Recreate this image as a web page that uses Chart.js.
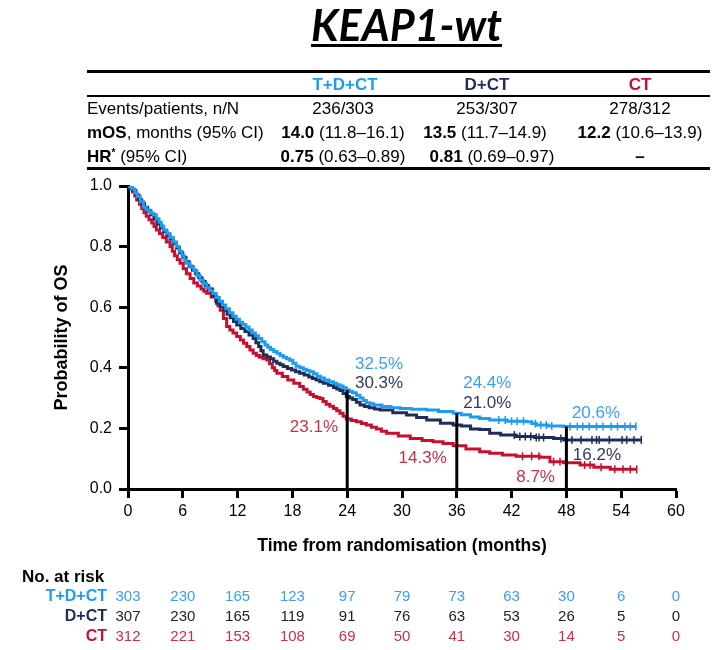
<!DOCTYPE html>
<html>
<head>
<meta charset="utf-8">
<script src="https://cdn.jsdelivr.net/npm/chart.js@4.4.1/dist/chart.umd.min.js"></script>
<style>
  body { margin: 0; width: 713px; height: 650px; position: relative; background: #fff; overflow: hidden;
         font-family: "Liberation Sans", Arial, sans-serif; }
  #chart { position: absolute; left: 0; top: 0; }
  #title { position: absolute; left: 0; width: 813px; top: -1px; text-align: center; line-height: 51px;
           font: italic 700 43px Lato, sans-serif; text-decoration: underline; text-decoration-thickness: 3px;
           text-underline-offset: 3px; }
  .t { position: absolute; white-space: nowrap; font-size: 17px; line-height: 20px; color: #000; }
  .c { transform: translate(-50%, -50%); }
  .l { transform: translateY(-50%); }
  .rule { position: absolute; left: 87px; width: 623px; background: #000; }
  sup { font-size: 10px; vertical-align: 6px; line-height: 0; }
</style>
</head>
<body>
<canvas id="chart" width="713" height="650"></canvas>
<div id="title">KEAP1-wt</div>

<div class="rule" style="top:70px;height:3px"></div>
<div class="t c" style="left:345px;top:85px;color:#1f9bf0;font-weight:700">T+D+CT</div>
<div class="t c" style="left:487px;top:85px;color:#1e2d5a;font-weight:700">D+CT</div>
<div class="t c" style="left:640px;top:85px;color:#c8102e;font-weight:700">CT</div>
<div class="rule" style="top:95px;height:1.5px"></div>

<div class="t l" style="left:87px;top:109px">Events/patients, n/N</div>
<div class="t c" style="left:343px;top:109px">236/303</div>
<div class="t c" style="left:487px;top:109px">253/307</div>
<div class="t c" style="left:640px;top:109px">278/312</div>

<div class="t l" style="left:87px;top:133px"><b>mOS</b>, months (95% CI)</div>
<div class="t c" style="left:343px;top:133px"><b>14.0</b> (11.8–16.1)</div>
<div class="t c" style="left:485px;top:133px"><b>13.5</b> (11.7–14.9)</div>
<div class="t c" style="left:640px;top:133px"><b>12.2</b> (10.6–13.9)</div>

<div class="t l" style="left:87px;top:157px"><b>HR<sup>*</sup></b> (95% CI)</div>
<div class="t c" style="left:343px;top:157px"><b>0.75</b> (0.63–0.89)</div>
<div class="t c" style="left:492px;top:157px"><b>0.81</b> (0.69–0.97)</div>
<div class="t c" style="left:640px;top:157px"><b>–</b></div>
<div class="rule" style="top:167px;height:3px"></div>

<script>
// Kaplan-Meier curves: months / probability of OS
const TIME_TDCT = [0, 0.25, 0.5, 0.75, 1.0, 1.35, 1.7, 2.0, 2.3, 2.55, 2.8, 3.1, 3.4, 3.65, 3.9, 4.25, 4.6, 4.95,
  5.3, 5.6, 5.9, 6.15, 6.4, 6.8, 7.2, 7.55, 7.9, 8.25, 8.6, 8.95, 9.3, 9.65, 10.0, 10.35, 10.7, 11.1, 11.5, 11.85,
  12.2, 12.55, 12.9, 13.25, 13.6, 13.95, 14.3, 14.65, 15.0, 15.3, 15.6, 15.95, 16.3, 16.65, 17.0, 17.35, 17.7,
  18.05, 18.4, 18.8, 19.2, 19.55, 19.9, 20.3, 20.7, 21.1, 21.5, 22.0, 22.5, 22.85, 23.2, 23.55, 23.9, 24.25, 24.6,
  25.0, 25.4, 25.75, 26.1, 26.5, 26.9, 27.8, 28.8, 29.8, 31.0, 32.7, 34.0, 35.6, 36.5, 37.5, 38.5, 39.6, 41.5,
  43.6, 44.2, 44.7, 46.0, 47.7, 55.7];
const SURV_TDCT = [1.0, 0.995, 0.99, 0.978, 0.965, 0.948, 0.93, 0.922, 0.915, 0.91, 0.905, 0.892, 0.88, 0.868,
  0.855, 0.843, 0.83, 0.815, 0.80, 0.785, 0.77, 0.757, 0.745, 0.733, 0.72, 0.705, 0.69, 0.678, 0.665, 0.655, 0.645,
  0.632, 0.62, 0.607, 0.595, 0.582, 0.57, 0.56, 0.55, 0.543, 0.535, 0.525, 0.515, 0.506, 0.497, 0.486, 0.475,
  0.468, 0.46, 0.454, 0.448, 0.441, 0.435, 0.43, 0.425, 0.415, 0.405, 0.40, 0.395, 0.391, 0.387, 0.38, 0.372,
  0.366, 0.36, 0.354, 0.349, 0.344, 0.34, 0.334, 0.327, 0.322, 0.318, 0.309, 0.30, 0.292, 0.285, 0.281, 0.277,
  0.272, 0.268, 0.266, 0.263, 0.261, 0.256, 0.25, 0.245, 0.238, 0.233, 0.228, 0.224, 0.222, 0.216, 0.211, 0.208,
  0.206, 0.206];

const TIME_DCT = [0, 0.25, 0.5, 0.85, 1.2, 1.5, 1.8, 2.15, 2.5, 2.85, 3.2, 3.55, 3.9, 4.25, 4.6, 4.95, 5.3, 5.65,
  6.0, 6.35, 6.7, 7.05, 7.4, 7.75, 8.1, 8.45, 8.8, 9.25, 9.7, 10.1, 10.5, 10.85, 11.2, 11.55, 11.9, 12.35, 12.8,
  13.25, 13.7, 14.0, 14.3, 14.55, 14.8, 15.2, 15.6, 15.95, 16.3, 16.65, 17.0, 17.45, 17.9, 18.35, 18.8, 19.3, 19.8,
  20.2, 20.6, 21.0, 21.4, 21.95, 22.5, 22.85, 23.2, 23.55, 23.9, 24.25, 24.6, 25.0, 25.4, 25.9, 26.4, 27.0, 27.6,
  29.0, 30.5, 31.6, 32.7, 34.2, 35.6, 36.5, 37.5, 38.5, 39.6, 40.8, 42.5, 44.5, 46.6, 47.7, 56.2];
const SURV_DCT = [1.0, 0.993, 0.985, 0.97, 0.955, 0.943, 0.93, 0.918, 0.905, 0.89, 0.875, 0.862, 0.85, 0.838,
  0.825, 0.81, 0.795, 0.78, 0.765, 0.75, 0.735, 0.722, 0.71, 0.697, 0.685, 0.672, 0.66, 0.637, 0.613, 0.602, 0.59,
  0.577, 0.565, 0.553, 0.541, 0.53, 0.52, 0.508, 0.497, 0.483, 0.47, 0.456, 0.442, 0.436, 0.43, 0.422, 0.415,
  0.41, 0.404, 0.398, 0.393, 0.387, 0.382, 0.376, 0.37, 0.365, 0.36, 0.354, 0.349, 0.342, 0.335, 0.33, 0.325,
  0.315, 0.305, 0.30, 0.295, 0.286, 0.277, 0.272, 0.268, 0.264, 0.261, 0.252, 0.244, 0.236, 0.228, 0.217, 0.211,
  0.208, 0.198, 0.196, 0.184, 0.178, 0.173, 0.17, 0.167, 0.162, 0.162];

const TIME_CT = [0, 0.25, 0.5, 0.75, 0.95, 1.25, 1.5, 1.75, 2.0, 2.3, 2.6, 2.85, 3.1, 3.45, 3.8, 4.2, 4.6, 4.85,
  5.1, 5.4, 5.7, 6.05, 6.4, 6.8, 7.2, 7.6, 8.0, 8.3, 8.6, 9.1, 9.6, 9.85, 10.1, 10.45, 10.8, 11.15, 11.5, 11.9,
  12.3, 12.65, 13.0, 13.35, 13.7, 14.05, 14.4, 14.8, 15.2, 15.5, 15.8, 16.05, 16.3, 16.9, 17.5, 18.15, 18.8, 19.2,
  19.6, 19.95, 20.3, 20.65, 21.0, 21.35, 21.7, 22.1, 22.5, 22.85, 23.2, 23.55, 23.9, 24.45, 25.0, 25.55, 26.1,
  26.65, 27.2, 27.75, 28.3, 29.6, 30.9, 32.2, 33.4, 34.5, 35.6, 37.0, 38.5, 39.6, 41.0, 42.5, 45.1, 46.2, 47.7,
  49.5, 51.0, 52.8, 55.7];
const SURV_CT = [1.0, 0.99, 0.98, 0.967, 0.954, 0.94, 0.925, 0.912, 0.90, 0.889, 0.878, 0.866, 0.855, 0.842, 0.83,
  0.815, 0.80, 0.785, 0.77, 0.757, 0.745, 0.727, 0.71, 0.695, 0.68, 0.67, 0.66, 0.653, 0.646, 0.634, 0.62, 0.605,
  0.59, 0.563, 0.536, 0.525, 0.515, 0.503, 0.492, 0.481, 0.47, 0.459, 0.448, 0.441, 0.435, 0.43, 0.426, 0.413,
  0.40, 0.391, 0.382, 0.371, 0.36, 0.349, 0.338, 0.329, 0.32, 0.312, 0.305, 0.302, 0.299, 0.289, 0.28, 0.273,
  0.266, 0.258, 0.25, 0.24, 0.231, 0.226, 0.222, 0.216, 0.211, 0.204, 0.198, 0.191, 0.184, 0.175, 0.167, 0.16,
  0.156, 0.15, 0.143, 0.132, 0.123, 0.118, 0.112, 0.108, 0.105, 0.09, 0.087, 0.079, 0.072, 0.065, 0.065];

// censoring ticks (months)
const CENSOR_TDCT = [40.6, 41.3, 42.0, 42.6, 43.3, 44.6, 45.2, 45.8, 46.4, 48.4, 49.2, 49.8, 50.5, 51.3, 52.0,
  52.9, 53.6, 54.4, 55.0, 55.6];
const CENSOR_DCT = [42.3, 42.9, 43.5, 44.1, 44.7, 45.0, 45.5, 47.4, 48.6, 49.6, 50.8, 51.3, 51.6, 52.7, 54.1,
  54.6, 55.4, 56.2];
const CENSOR_CT = [43.2, 44.2, 45.0, 46.6, 47.3, 50.0, 50.6, 51.8, 53.3, 54.2, 55.0, 55.7];

// landmarks and their rates
const LANDMARKS = [24, 36, 48];
const RATE_TDCT = ['32.5%', '24.4%', '20.6%'];
const RATE_DCT = ['30.3%', '21.0%', '16.2%'];
const RATE_CT = ['23.1%', '14.3%', '8.7%'];

// number at risk, every 6 months
const RISK_TIMES = [0, 6, 12, 18, 24, 30, 36, 42, 48, 54, 60];
const RISK_TDCT = [303, 230, 165, 123, 97, 79, 73, 63, 30, 6, 0];
const RISK_DCT = [307, 230, 165, 119, 91, 76, 63, 53, 26, 5, 0];
const RISK_CT = [312, 221, 153, 108, 69, 50, 41, 30, 14, 5, 0];

const ARM_LABELS = ['T+D+CT', 'D+CT', 'CT'];
const BLUE = '#1f9bf0', NAVY = '#1e2d5a', RED = '#c8102e';
const BLUE_TXT = '#3a9ff0', NAVY_TXT = '#2f3a62', RED_TXT = '#c83048';

function survAt(times, surv, t) {
  let v = surv[0];
  for (let i = 0; i < times.length; i++) {
    if (times[i] <= t) v = surv[i]; else break;
  }
  return v;
}

const pts = (times, surv) => times.map((t, i) => ({ x: t, y: surv[i] }));
const censorPts = (cens, times, surv) => cens.map(t => ({ x: t, y: survAt(times, surv, t) }));

const curve = (label, data, color) => ({
  label, data, borderColor: color, borderWidth: 3, pointRadius: 0,
  stepped: 'before', fill: false
});
const ticks = (data, color) => ({
  type: 'scatter', data, showLine: false, borderColor: color, backgroundColor: color,
  pointStyle: 'line', rotation: 90, pointRadius: 4, borderWidth: 1.5
});

// where the landmark percentages sit, in axis units: [month, probability, align]
const RATE_POS = {
  tdct: [[24.85, 0.413, 'left'], [36.7, 0.35, 'left'], [48.6, 0.251, 'left']],
  dct: [[24.85, 0.35, 'left'], [36.7, 0.284, 'left'], [48.7, 0.112, 'left']],
  ct: [[23.0, 0.205, 'right'], [34.9, 0.102, 'right'], [46.75, 0.04, 'right']]
};

const kmExtras = {
  id: 'kmExtras',
  afterDatasetsDraw(chart) {
    const { ctx, scales: { x, y } } = chart;
    ctx.save();
    ctx.strokeStyle = '#000';
    ctx.lineWidth = 3;
    LANDMARKS.forEach(t => {
      const px = x.getPixelForValue(t);
      ctx.beginPath();
      ctx.moveTo(px, y.getPixelForValue(0));
      ctx.lineTo(px, y.getPixelForValue(survAt(TIME_TDCT, SURV_TDCT, t)));
      ctx.stroke();
    });
    ctx.restore();
  },
  afterDraw(chart) {
    const { ctx, scales: { x, y } } = chart;
    ctx.save();
    ctx.textBaseline = 'middle';
    ctx.font = '17px "Liberation Sans", Arial, sans-serif';
    [[RATE_TDCT, RATE_POS.tdct, BLUE_TXT], [RATE_DCT, RATE_POS.dct, NAVY_TXT], [RATE_CT, RATE_POS.ct, RED_TXT]]
      .forEach(([rates, pos, color]) => {
        ctx.fillStyle = color;
        rates.forEach((r, i) => {
          ctx.textAlign = pos[i][2];
          ctx.fillText(r, x.getPixelForValue(pos[i][0]), y.getPixelForValue(pos[i][1]));
        });
      });

    // number at risk table
    ctx.textAlign = 'left';
    ctx.fillStyle = '#000';
    ctx.font = 'bold 17px "Liberation Sans", Arial, sans-serif';
    ctx.fillText('No. at risk', 22, 577);
    const rows = [[RISK_TDCT, BLUE, BLUE_TXT], [RISK_DCT, NAVY, NAVY_TXT], [RISK_CT, RED, RED_TXT]];
    rows.forEach(([vals, color, txt], r) => {
      const rowY = 597 + r * 20;
      ctx.textAlign = 'right';
      ctx.fillStyle = color;
      ctx.font = 'bold 16px "Liberation Sans", Arial, sans-serif';
      ctx.fillText(ARM_LABELS[r], 107, rowY);
      ctx.textAlign = 'center';
      ctx.fillStyle = r === 1 ? '#222' : txt;
      ctx.font = '15px "Liberation Sans", Arial, sans-serif';
      vals.forEach((v, i) => ctx.fillText(String(v), x.getPixelForValue(RISK_TIMES[i]), rowY));
    });
    ctx.restore();
  }
};

new Chart(document.getElementById('chart'), {
  type: 'line',
  data: {
    datasets: [
      curve(ARM_LABELS[0], pts(TIME_TDCT, SURV_TDCT), BLUE),
      ticks(censorPts(CENSOR_TDCT, TIME_TDCT, SURV_TDCT), BLUE),
      curve(ARM_LABELS[1], pts(TIME_DCT, SURV_DCT), NAVY),
      ticks(censorPts(CENSOR_DCT, TIME_DCT, SURV_DCT), NAVY),
      curve(ARM_LABELS[2], pts(TIME_CT, SURV_CT), RED),
      ticks(censorPts(CENSOR_CT, TIME_CT, SURV_CT), RED)
    ]
  },
  options: {
    responsive: false,
    animation: false,
    events: [],
    layout: { padding: { left: 40, right: 37, top: 186, bottom: 91 } },
    plugins: { legend: { display: false }, tooltip: { enabled: false } },
    scales: {
      x: {
        type: 'linear', min: 0, max: 60,
        afterFit: s => { s.height = 70; },
        ticks: { stepSize: 6, color: '#000', padding: 4, font: { size: 16, family: '"Liberation Sans", Arial' } },
        grid: { drawOnChartArea: false, tickLength: 9, tickWidth: 3, tickColor: '#000' },
        border: { color: '#000', width: 3 },
        title: {
          display: true, text: 'Time from randomisation (months)', color: '#000',
          font: { size: 17.5, weight: 'bold', family: '"Liberation Sans", Arial' }, padding: { top: 0, bottom: 2 }
        }
      },
      y: {
        min: 0, max: 1,
        afterFit: s => { s.width = 88; },
        ticks: { stepSize: 0.2, color: '#000', padding: 7, callback: v => v.toFixed(1),
                 font: { size: 16, family: '"Liberation Sans", Arial' } },
        grid: { drawOnChartArea: false, tickLength: 9, tickWidth: 3, tickColor: '#000' },
        border: { color: '#000', width: 3 },
        title: {
          display: true, text: 'Probability of OS', color: '#000',
          font: { size: 18, weight: 'bold', family: '"Liberation Sans", Arial' }, padding: { top: 11, bottom: 0 }
        }
      }
    }
  },
  plugins: [kmExtras]
});
</script>
</body>
</html>
